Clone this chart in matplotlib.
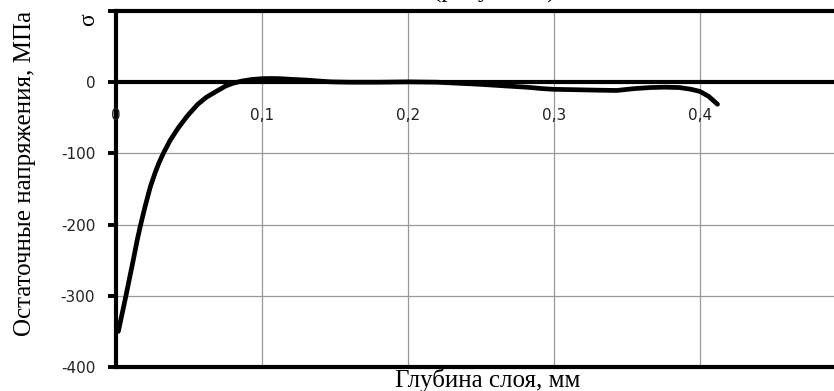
import matplotlib.pyplot as plt

# глубина слоя, мм и остаточные напряжения, МПа
depth = [0.0016, 0.004, 0.0068, 0.0095, 0.012, 0.0145, 0.0169, 0.020, 0.0235, 0.027,
         0.0295, 0.0324, 0.037, 0.0427, 0.049, 0.056, 0.062, 0.069, 0.075, 0.080,
         0.086, 0.093, 0.100, 0.106, 0.112, 0.120, 0.130, 0.140, 0.147, 0.160,
         0.180, 0.200, 0.220, 0.235, 0.250, 0.265, 0.281, 0.292, 0.300, 0.313,
         0.330, 0.343, 0.355, 0.366, 0.376, 0.386, 0.394, 0.400, 0.406, 0.412]
stress = [-350, -327, -300, -273, -248, -222, -200, -174, -147, -126,
          -113, -100, -82, -64, -47, -31, -21, -12.5, -5.5, -1.5,
          1.5, 3.8, 5, 5.2, 5, 4, 3, 1.5, 0.5, 0,
          0, 0.5, 0, -1.5, -3, -5, -7, -9, -10, -10.5,
          -11.2, -11.6, -9, -7.5, -7, -7.5, -10, -13, -20, -31]

x_ticks = [0, 0.1, 0.2, 0.3, 0.4]
x_labels = ['0', '0,1', '0,2', '0,3', '0,4']
y_ticks = [-400, -300, -200, -100, 0, 100]
y_labels = ['-400', '-300', '-200', '-100', '0', '']

serif = 'Liberation Serif'

fig = plt.figure(figsize=(8.34, 3.91), dpi=100)
ax = fig.add_axes([116 / 834, 24 / 391, 730 / 834, 356 / 391])

ax.set_xlim(0, 0.5)
ax.set_ylim(-400, 100)

ax.set_xticks(x_ticks)
ax.set_xticklabels([])
ax.tick_params(axis='x', length=0)
ax.set_yticks(y_ticks)
ax.set_yticklabels(y_labels, fontsize=11, color='#222222')
ax.tick_params(axis='y', direction='out', length=6, width=2.8, pad=9)

ax.grid(True, color='#999999', linewidth=0.9)
ax.set_axisbelow(True)

for side in ['left', 'bottom', 'top']:
    ax.spines[side].set_linewidth(3)
ax.spines['right'].set_visible(False)

ax.axhline(0, color='black', linewidth=3, zorder=2)
ax.plot(depth, stress, color='black', linewidth=3.4, solid_joinstyle='round',
        solid_capstyle='round', zorder=3)

for xt, lab in zip(x_ticks, x_labels):
    ax.text(xt, -47, lab, ha='center', va='center', fontsize=11, color='#222222')

fig.text(25 / 834, 1 - 173 / 391, 'Остаточные напряжения, МПа', rotation=90,
         ha='center', va='center', fontsize=18, family=serif)
fig.text(89 / 834, 1 - 20 / 391, 'σ', rotation=90, ha='center', va='center',
         fontsize=17, family=serif)
fig.text(488 / 834, 1 - 380 / 391, 'Глубина слоя, мм', ha='center', va='center',
         fontsize=18, family=serif)
fig.text(433 / 834, 1 + 2 / 391, '(рисунок 3)', ha='left', va='baseline',
         fontsize=18, family=serif)

fig.savefig('out.png', dpi=100)
